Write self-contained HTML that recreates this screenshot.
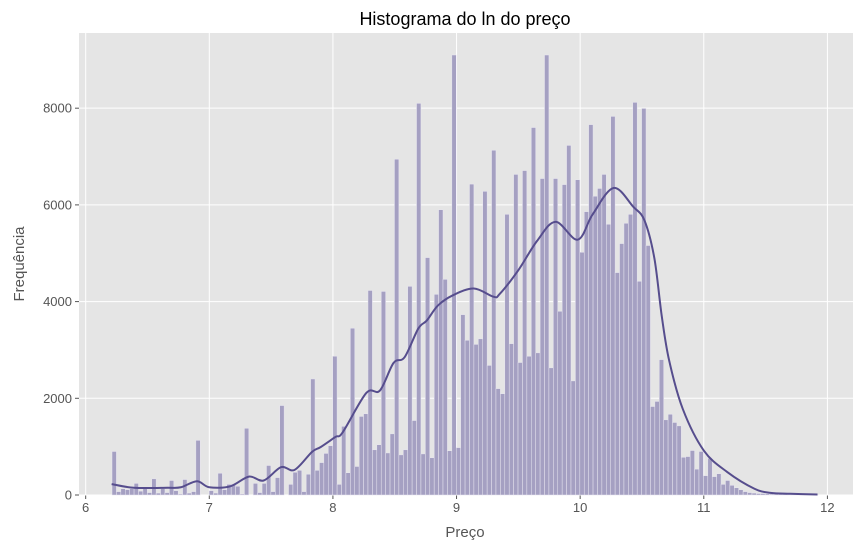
<!DOCTYPE html>
<html><head><meta charset="utf-8"><style>
body{margin:0;background:#fff;}
svg text{font-family:"Liberation Sans",sans-serif;}
</style></head><body>
<svg id="chart" width="861" height="549" xmlns="http://www.w3.org/2000/svg">
<rect x="0" y="0" width="861" height="549" fill="#fff"/>
<text x="465" y="25" text-anchor="middle" font-size="18" fill="#000">Histograma do ln do preço</text>
<text x="465" y="537" text-anchor="middle" font-size="15" fill="#555">Preço</text>
<text x="24" y="264" text-anchor="middle" font-size="15" fill="#555" transform="rotate(-90 24 264)">Frequência</text>
<g id="plot"></g>
</svg>
<script>
const binStart = 6.213;
const binWidth = 0.0357;
const counts = [900,70,130,110,130,240,80,130,50,335,40,130,50,300,90,20,320,40,70,1130,
0,0,90,40,450,110,220,220,180,20,1380,0,240,50,240,610,70,360,1850,0,
220,470,510,70,430,2400,510,670,860,1020,2870,220,1420,460,3450,590,1625,1680,4230,935,
1040,4210,870,1265,6945,830,935,4315,1540,8100,850,4910,770,4150,5900,4460,915,9100,980,3730,
3200,6430,3115,3230,6280,2680,7130,2200,2095,5805,3130,6630,2740,6710,2870,7600,2940,6545,9100,2630,
6545,3800,6420,7230,2360,6520,5020,5860,7660,6180,6340,6630,5600,7830,4600,5200,5620,5805,8120,4420,
7995,5160,1830,1935,2800,1555,1670,1500,1430,780,795,920,535,900,400,760,380,440,220,300,
200,150,110,70,50,40,30,30,25,20,20,15,15,10,10,10,10,5,5,5];
const kdeX = [6.21,6.39,6.66,6.77,6.90,7.0,7.17,7.32,7.44,7.58,7.69,7.83,7.90,8.02,8.08,8.27,8.38,8.49,8.58,8.69,8.76,8.85,8.97,9.14,9.30,9.35,9.5,9.65,9.80,9.98,10.1,10.27,10.43,10.52,10.60,10.66,10.72,10.83,11.0,11.19,11.41,11.54,11.7,11.92];
const kdeY = [225,150,150,160,285,160,180,380,300,575,520,890,990,1200,1300,2110,2160,2730,2850,3440,3610,3920,4130,4270,4100,4160,4650,5250,5650,5280,5800,6350,5960,5680,4900,3700,2780,1780,920,475,130,45,25,10];
const xTicks = [6,7,8,9,10,11,12];
const yTicks = [0,2000,4000,6000,8000];

const L=79,R=853,T=33,B=495;
const xMin=5.946,xMax=12.207,yMax=9555;
const sx=v=>L+(v-xMin)/(xMax-xMin)*(R-L);
const sy=v=>B-v/yMax*(B-T);
const NS="http://www.w3.org/2000/svg";
const g=document.getElementById('plot');
function mk(tag,attrs){const e=document.createElementNS(NS,tag);for(const k in attrs)e.setAttribute(k,attrs[k]);g.appendChild(e);return e;}

const bg=mk('rect',{x:L,y:T,width:R-L,height:B-T,fill:'#e5e5e5'});



xTicks.forEach(t=>{
  const gl=mk('line',{x1:sx(t),x2:sx(t),y1:T,y2:B,stroke:'#fff','stroke-width':1});
  
  
  const tk=mk('line',{x1:sx(t),x2:sx(t),y1:B,y2:B+4,stroke:'#555','stroke-width':1});
  
  
  const tx=mk('text',{x:sx(t),y:B+17,'text-anchor':'middle','font-size':13,fill:'#555'});
  tx.textContent=t;
  
  
});
yTicks.forEach(t=>{
  const gl=mk('line',{x1:L,x2:R,y1:sy(t),y2:sy(t),stroke:'#fff','stroke-width':1});
  
  
  const tk=mk('line',{x1:L-4,x2:L,y1:sy(t),y2:sy(t),stroke:'#555','stroke-width':1});
  
  
  const tx=mk('text',{x:L-7,y:sy(t)+4.5,'text-anchor':'end','font-size':13,fill:'#555'});
  tx.textContent=t;
  
  
});

counts.forEach((c,i)=>{
  const x0=sx(binStart+i*binWidth),x1=sx(binStart+(i+1)*binWidth);
  const r=mk('rect',{x:x0,y:sy(c),width:x1-x0,height:B-sy(c),fill:'#a5a0c2',stroke:'#e8e6f0','stroke-width':0.5});
  
  
});

const pts=kdeX.map((x,i)=>[sx(x),sy(kdeY[i])]);
let d='M'+pts[0][0]+','+pts[0][1];
for(let i=0;i<pts.length-1;i++){
  const p0=pts[Math.max(i-1,0)],p1=pts[i],p2=pts[i+1],p3=pts[Math.min(i+2,pts.length-1)];
  const c1=[p1[0]+(p2[0]-p0[0])/6,p1[1]+(p2[1]-p0[1])/6];
  const c2=[p2[0]-(p3[0]-p1[0])/6,p2[1]-(p3[1]-p1[1])/6];
  d+=' C'+c1[0]+','+c1[1]+' '+c2[0]+','+c2[1]+' '+p2[0]+','+p2[1];
}
const line=mk('path',{d:d,fill:'none',stroke:'#564d8d','stroke-width':2});


</script>
</body></html>
